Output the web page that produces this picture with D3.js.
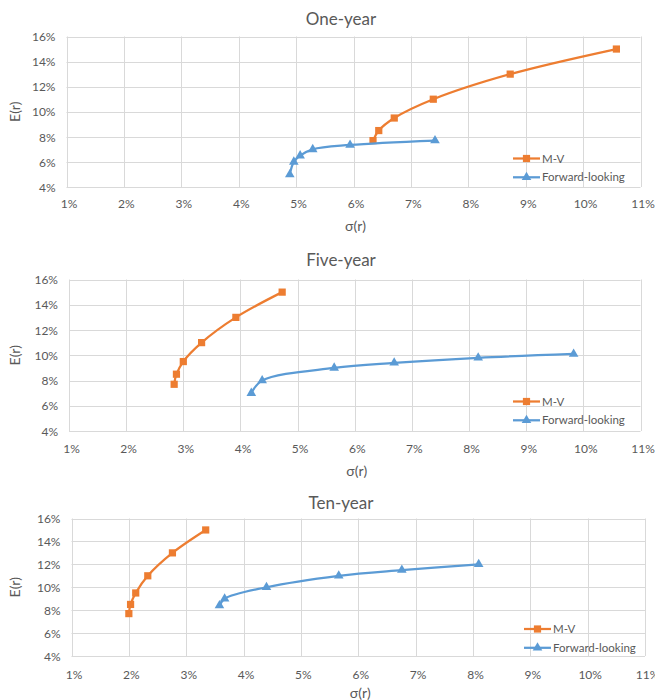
<!DOCTYPE html>
<html>
<head>
<meta charset="utf-8">
<script src="https://cdn.jsdelivr.net/npm/d3@7"></script>
<style>
  html, body { margin: 0; padding: 0; background: #fff; }
  svg { display: block; }
  text { font-family: Lato, "Open Sans", sans-serif; fill: #595959; }
</style>
</head>
<body>
<svg id="chart" width="655" height="700"></svg>
<script>
// ---------------- data ----------------
const panelTitles = ["One-year", "Five-year", "Ten-year"];
const seriesNames = ["M-V", "Forward-looking"];
const xTickValues = [1, 2, 3, 4, 5, 6, 7, 8, 9, 10, 11];   // σ(r), %
const yTickValues = [4, 6, 8, 10, 12, 14, 16];              // E(r), %
const xAxisTitle = "σ(r)";
const yAxisTitle = "E(r)";

// M-V frontier: expected returns shared, σ per horizon
const mvE = [7.7, 8.5, 9.5, 11, 13, 15];
const mvSigma1 = [6.34, 6.44, 6.71, 7.39, 8.73, 10.58];
const mvSigma5 = [2.84, 2.88, 3.00, 3.32, 3.92, 4.73];
const mvSigma10 = [2.00, 2.03, 2.12, 2.33, 2.76, 3.34];

// Forward-looking frontier
const fwdSigma1 = [4.89, 4.96, 5.07, 5.29, 5.94, 7.42];
const fwdE1 = [5.0, 6.0, 6.5, 7.0, 7.35, 7.7];
const fwdSigma5 = [4.19, 4.38, 5.64, 6.69, 8.16, 9.83];
const fwdE5 = [7.0, 8.0, 9.0, 9.4, 9.8, 10.1];
const fwdSigma10 = [3.58, 3.67, 4.40, 5.66, 6.76, 8.10];
const fwdE10 = [8.4, 9.0, 10.0, 11.0, 11.5, 12.0];

const mvSigmas = [mvSigma1, mvSigma5, mvSigma10];
const fwdSigmas = [fwdSigma1, fwdSigma5, fwdSigma10];
const fwdEs = [fwdE1, fwdE5, fwdE10];

// ---------------- layout / style ----------------
const colors = ["#ED7D31", "#5B9BD5"];
const layouts = [
  { left: 66.5, right: 640.5, top: 36.5, bottom: 187, titleY: 25, tickY: 207.5, axisY: 231, legX: 513, legY: 158.5 },
  { left: 69, right: 640.5, top: 279.5, bottom: 431, titleY: 266, tickY: 452.5, axisY: 476, legX: 513, legY: 401.5 },
  { left: 71.5, right: 645, top: 518.5, bottom: 656, titleY: 509, tickY: 678.5, axisY: 697.5, legX: 524, legY: 629 }
];

const svg = d3.select("#chart");

function pts(xs, ys) { return xs.map((x, i) => [x, ys[i]]); }

layouts.forEach((L, p) => {
  const g = svg.append("g");
  const x = d3.scaleLinear().domain([1, 11]).range([L.left, L.right]);
  const y = d3.scaleLinear().domain([4, 16]).range([L.bottom, L.top]);

  // gridlines
  g.append("g").selectAll("line.v").data(xTickValues).join("line")
    .attr("x1", d => Math.round(x(d)) + 0.5).attr("x2", d => Math.round(x(d)) + 0.5)
    .attr("y1", y(16)).attr("y2", y(4))
    .attr("stroke", "#d9d9d9").attr("stroke-width", 1);
  g.append("g").selectAll("line.h").data(yTickValues).join("line")
    .attr("x1", x(1)).attr("x2", x(11))
    .attr("y1", d => Math.round(y(d)) + 0.5).attr("y2", d => Math.round(y(d)) + 0.5)
    .attr("stroke", "#d9d9d9").attr("stroke-width", 1);

  // axes (labels only, lines hidden — gridlines act as frame)
  const xAxis = d3.axisBottom(x).tickValues(xTickValues).tickSize(0).tickFormat(d => d + "%");
  const xa = g.append("g").attr("transform", `translate(0,${L.tickY - 9})`).call(xAxis);
  xa.select(".domain").remove();
  xa.selectAll("text").attr("dy", 0).attr("y", 9).attr("dx", 2)
    .style("font-size", "12px").style("font-family", "Lato, sans-serif").attr("fill", "#595959");

  const yAxis = d3.axisLeft(y).tickValues(yTickValues).tickSize(0).tickFormat(d => d + "%");
  const ya = g.append("g").attr("transform", `translate(${L.left - 11},0)`).call(yAxis);
  ya.select(".domain").remove();
  ya.selectAll("text").attr("x", 0).attr("dy", "0.35em")
    .style("font-size", "12px").style("font-family", "Lato, sans-serif").attr("fill", "#595959");

  // titles
  g.append("text").attr("x", 341).attr("y", L.titleY).attr("text-anchor", "middle")
    .style("font-size", "17px").text(panelTitles[p]);
  g.append("text").attr("x", (L.left + L.right) / 2 + 2).attr("y", L.axisY).attr("text-anchor", "middle")
    .style("font-size", "14px").text(xAxisTitle);
  g.append("text").attr("transform", `translate(20,${(L.top + L.bottom) / 2}) rotate(-90)`)
    .attr("text-anchor", "middle").style("font-size", "14px").text(yAxisTitle);

  // series
  const series = [pts(mvSigmas[p], mvE), pts(fwdSigmas[p], fwdEs[p])];
  const line = d3.line().x(d => x(d[0])).y(d => y(d[1])).curve(d3.curveCatmullRom.alpha(0.5));
  const sq = d3.symbol().type(d3.symbolSquare).size(52);
  const tri = d3.symbol().type(d3.symbolTriangle).size(40);

  series.forEach((data, s) => {
    g.append("path").datum(data).attr("d", line)
      .attr("fill", "none").attr("stroke", colors[s]).attr("stroke-width", 2.25)
      .attr("stroke-linejoin", "round").attr("stroke-linecap", "round");
    g.append("g").selectAll("path").data(data).join("path")
      .attr("d", s === 0 ? sq : tri)
      .attr("transform", d => `translate(${x(d[0])},${y(d[1])})`)
      .attr("fill", colors[s]);
  });

  // legend
  const leg = g.append("g").attr("transform", `translate(${L.legX},${L.legY})`);
  seriesNames.forEach((name, s) => {
    const row = leg.append("g").attr("transform", `translate(0,${s * 18.8})`);
    row.append("line").attr("x1", 0).attr("x2", 27).attr("y1", 0).attr("y2", 0)
      .attr("stroke", colors[s]).attr("stroke-width", 2.25);
    row.append("path").attr("d", s === 0 ? sq() : tri()).attr("transform", "translate(13.5,0)")
      .attr("fill", colors[s]);
    row.append("text").attr("x", 29).attr("y", 0).attr("dy", "0.35em")
      .style("font-size", "11.5px").text(name);
  });
});
</script>
</body>
</html>
